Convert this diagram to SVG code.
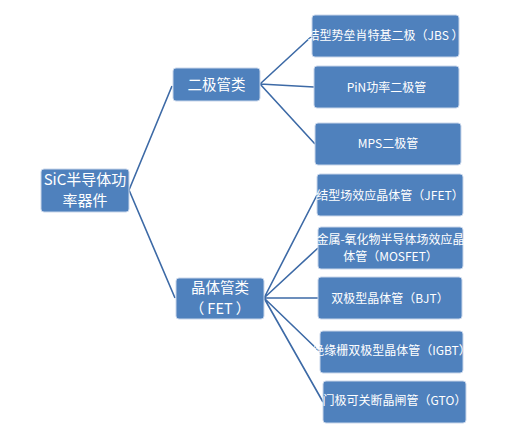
<svg xmlns="http://www.w3.org/2000/svg" width="523" height="446" viewBox="0 0 523 446">
<style>
.box{fill:#4F81BD;stroke:#c9d6ea;stroke-width:1}
.t{fill:#ffffff;font-family:"Microsoft YaHei","Noto Sans CJK SC","Noto Sans",sans-serif;text-anchor:middle}
.s{font-size:12px}
.m{font-size:14.5px}
.l{font-size:15px}
.c{fill:none;stroke:#3d6aa6;stroke-width:1.6}
</style>
<rect width="523" height="446" fill="#ffffff"/>
<g id="connectors">
<path class="c" d="M129,190 L172,86 M129,190 L175,298"/>
<path class="c" d="M260,84 L312,36 M260,84 L314,87 M260,84 L315,144"/>
<path class="c" d="M264,298 L317,195 M264,298 L318,248 M264,298 L318,298 M264,298 L320,352 M264,298 L323,402"/>
</g>
<g id="root"><rect class="box" x="41" y="169" width="88" height="43" rx="3"/>
<text class="t l" x="85" y="185">SiC半导体功</text><text class="t l" x="85" y="206">率器件</text></g>
<g id="diode"><rect class="box" x="173" y="68" width="87" height="33" rx="3"/>
<text class="t m" x="216.5" y="90">二极管类</text></g>
<g id="fet"><rect class="box" x="176" y="278" width="88" height="41" rx="3"/>
<text class="t m" x="220" y="293">晶体管类</text><text class="t m" x="220" y="314">（ FET ）</text></g>
<g id="jbs"><rect class="box" x="312" y="15" width="147" height="42" rx="3"/>
<text class="t s" x="385.5" y="40">结型势垒肖特基二极（JBS ）</text></g>
<g id="pin"><rect class="box" x="314" y="66" width="145" height="42" rx="3"/>
<text class="t s" x="386.5" y="92">PiN功率二极管</text></g>
<g id="mps"><rect class="box" x="315" y="123" width="146" height="42" rx="3"/>
<text class="t s" x="388" y="148">MPS二极管</text></g>
<g id="jfet"><rect class="box" x="317" y="174" width="146" height="42" rx="3"/>
<text class="t s" x="390" y="200">结型场效应晶体管（JFET）</text></g>
<g id="mosfet"><rect class="box" x="318" y="227" width="145" height="42" rx="3"/>
<text class="t s" x="390.5" y="244">金属-氧化物半导体场效应晶</text><text class="t s" x="390.5" y="261">体管（MOSFET）</text></g>
<g id="bjt"><rect class="box" x="318" y="277" width="144" height="42" rx="3"/>
<text class="t s" x="390" y="303">双极型晶体管（BJT）</text></g>
<g id="igbt"><rect class="box" x="320" y="331" width="143" height="42" rx="3"/>
<text class="t s" x="391.5" y="355">绝缘栅双极型晶体管（IGBT）</text></g>
<g id="gto"><rect class="box" x="323" y="381" width="143" height="42" rx="3"/>
<text class="t s" x="394.5" y="405">门极可关断晶闸管（GTO）</text></g>
</svg>
